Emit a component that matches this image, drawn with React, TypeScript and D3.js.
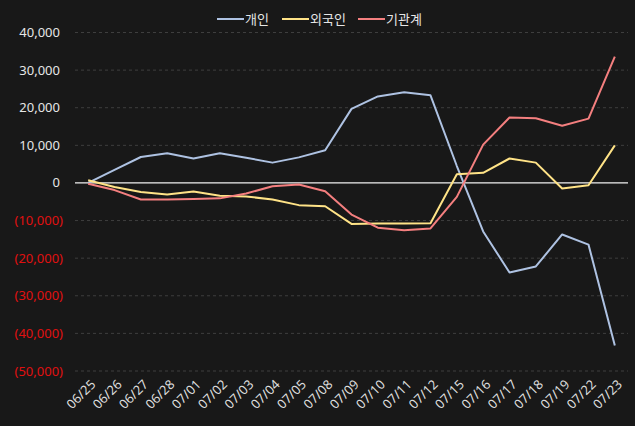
import React from "react";
import * as d3 from "d3";

const categories = ["06/25","06/26","06/27","06/28","07/01","07/02","07/03","07/04","07/05","07/08","07/09","07/10","07/11","07/12","07/15","07/16","07/17","07/18","07/19","07/22","07/23"];
const individual = [0, 3500, 6900, 7900, 6500, 7900, 6700, 5400, 6800, 8700, 19700, 23000, 24100, 23300, 4500, -12900, -23800, -22200, -13700, -16400, -43200];
const foreign = [700, -1100, -2400, -3100, -2300, -3400, -3600, -4400, -5900, -6200, -10900, -10800, -10800, -10700, 2300, 2700, 6500, 5400, -1500, -600, 10000];
const institution = [-200, -1900, -4400, -4400, -4300, -4100, -2800, -900, -400, -2200, -8400, -11900, -12600, -12100, -3700, 10200, 17400, 17200, 15200, 17100, 33600];
const yTicks = [40000, 30000, 20000, 10000, 0, -10000, -20000, -30000, -40000, -50000];

const seriesNames = ["개인", "외국인", "기관계"];
const seriesColors = ["#aec2e2", "#ffe387", "#f47f7f"];
const seriesData = [individual, foreign, institution];

const W = 635, H = 426;
const left = 75, right = 628, top = 32.5, bottom = 371;
const font = "'Noto Sans', 'Noto Sans CJK KR', sans-serif";

export default function App() {
  const x = d3.scalePoint<string>().domain(categories).range([left, right]).padding(0.5);
  const y = d3.scaleLinear().domain([-50000, 40000]).range([bottom, top]);
  const line = (vals: number[]) =>
    d3.line<number>().x((_, i) => x(categories[i]) as number).y((d) => y(d))(vals) || "";
  const fmt = d3.format(",");
  const legendX = [217, 282, 358];

  return (
    <div style={{ position: "absolute", left: 0, top: 0, width: W, height: H }}>
      <svg width={W} height={H} style={{ display: "block", background: "#181818", fontFamily: font }}>
        <rect x={0} y={0} width={W} height={H} fill="#181818" />
        {yTicks.map((t) => (
          <g key={t}>
            {t !== 0 && (
              <line x1={left} x2={right} y1={y(t)} y2={y(t)} stroke="#3e3e3e" strokeWidth={1} strokeDasharray="3,3" />
            )}
            <text
              x={t < 0 ? 63 : 60}
              y={y(t)}
              dy="0.35em"
              textAnchor="end"
              fontSize={13}
              fill={t < 0 ? "#e01010" : "#e6e6e6"}
            >
              {t < 0 ? `(${fmt(-t)})` : fmt(t)}
            </text>
          </g>
        ))}
        <line x1={left} x2={right} y1={y(0)} y2={y(0)} stroke="#f0f0f0" strokeWidth={1.2} />
        {seriesData.map((vals, i) => (
          <path key={i} d={line(vals)} fill="none" stroke={seriesColors[i]} strokeWidth={2} strokeLinejoin="round" />
        ))}
        {categories.map((c) => (
          <text
            key={c}
            transform={`translate(${(x(c) as number) + 5},${382}) rotate(-45)`}
            textAnchor="end"
            fontSize={13}
            fill="#dcdcdc"
            dy="0.35em"
          >
            {c}
          </text>
        ))}
        {seriesNames.map((n, i) => (
          <g key={n}>
            <line x1={legendX[i]} x2={legendX[i] + 27} y1={19} y2={19} stroke={seriesColors[i]} strokeWidth={2} />
            <text x={legendX[i] + 28} y={19} dy="0.35em" fontSize={13} fill="#e6e6e6" fontFamily="'Noto Sans CJK KR', sans-serif">
              {n}
            </text>
          </g>
        ))}
      </svg>
    </div>
  );
}
